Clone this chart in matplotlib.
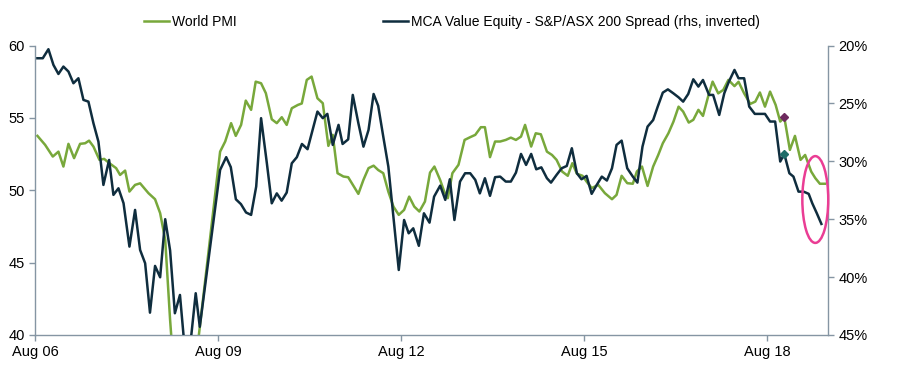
#!/usr/bin/env python3
"""World PMI vs MCA value equity spread (rhs, inverted)."""
import matplotlib.pyplot as plt
from matplotlib.patches import Ellipse

plt.rcParams["font.family"] = ["Liberation Sans", "DejaVu Sans"]

GREEN = "#78a83b"
NAVY = "#0f2d3e"
AXIS = "#8595a3"
PINK = "#ea3d94"

# x = months since Aug 2006
pmi_months = [
    0.46, 1.97, 3.48, 4.59, 5.57, 6.56, 7.67, 8.85, 9.84, 10.62, 11.48, 12.66, 13.58,
    14.62, 15.94, 16.72, 17.71, 18.56, 19.67, 20.66, 22.3, 23.6, 24.6, 25.6, 26.56,
    27.5, 29.5, 31.5, 36.4, 37.4, 38.56, 39.48, 40.53, 41.45, 42.5, 43.4, 44.46, 45.4,
    46.56, 47.55, 48.53, 49.5, 50.5, 51.7, 52.47, 53.45, 54.4, 55.55, 56.6, 57.7,
    58.56, 59.5, 60.66, 61.6, 63.6, 64.6, 65.6, 66.6, 67.5, 68.5, 69.5, 70.5, 71.55,
    72.6, 73.6, 74.6, 75.6, 76.7, 77.7, 78.56, 79.7, 80.5, 81.2, 82.1, 83.3, 84.5,
    85.6, 86.6, 87.7, 88.5, 89.5, 90.5, 91.5, 92.6, 93.6, 94.6, 95.6, 96.4, 97.6,
    98.5, 99.5, 100.7, 101.7, 102.6, 103.7, 104.8, 105.7, 106.6, 107.7, 108.5, 109.5,
    110.8, 112.1, 113.5, 114.4, 115.4, 116.5, 117.6, 118.4, 119.4, 120.5, 121.6,
    122.6, 123.5, 124.6, 125.6, 126.6, 127.5, 128.6, 129.5, 130.5, 131.4, 132.5,
    133.3, 134.4, 135.4, 136.4, 137.6, 138.4, 139.5, 140.7, 141.7, 142.6, 143.6,
    144.6, 145.7, 146.6, 147.4, 148.5, 149.5, 150.6, 151.5, 152.7, 153.5, 154.4, 155.4,
]
pmi_values = [
    53.76, 53.14, 52.33, 52.67, 51.64, 53.21, 52.22, 53.21, 53.25, 53.43, 53.02, 52.1, 52.17,
    51.87, 51.53, 51.06, 51.36, 49.91, 50.37, 50.48, 49.8, 49.38, 48.42, 46.57, 41.04,
    36.5, 34.0, 37.8, 52.67, 53.37, 54.64, 53.76, 54.52, 56.2, 55.56, 57.51, 57.4, 56.71,
    54.91, 54.64, 55.05, 54.52, 55.67, 55.9, 56.0, 57.63, 57.86, 56.36, 56.02, 53.07,
    53.83, 51.18, 50.95, 50.9, 49.75, 50.72, 51.53, 51.7, 51.4, 51.18, 49.9, 48.87, 48.3,
    48.64, 49.56, 48.87, 48.53, 49.22, 51.22, 51.64, 50.7, 49.9, 49.45, 51.18, 51.76, 53.48,
    53.67, 53.83, 54.36, 54.36, 52.29, 53.37, 53.37, 53.48, 53.64, 53.48, 53.71, 54.52, 53.02,
    53.94, 53.87, 52.67, 52.44, 52.1, 51.29, 51.0, 51.87, 51.14, 51.0, 50.6, 50.15,
    50.37, 49.8, 49.38, 49.68, 51.0, 50.49, 50.45, 51.3, 51.64, 50.3, 51.64,
    52.44, 53.25, 53.94, 54.75, 55.78, 55.44, 54.68, 54.87, 55.56, 55.14, 56.59,
    57.51, 56.7, 56.94, 57.63, 57.2, 57.5, 56.7, 55.97, 56.13, 56.76, 55.78,
    56.82, 55.9, 54.75, 55.05, 52.79, 53.76, 52.1, 52.44, 51.29, 50.84, 50.45, 50.45,
]

spread_months = [
    0.46, 1.51, 2.62, 3.61, 4.59, 5.57, 6.56, 7.54, 8.52, 9.51, 10.49, 11.48, 12.46,
    13.44, 14.56, 15.41, 16.4, 17.4, 18.56, 19.67, 20.66, 21.65, 22.6, 23.6, 24.6, 25.6,
    26.56, 27.5, 28.5, 29.5, 30.5, 31.6, 32.4, 36.4, 37.6, 38.5, 39.5, 40.5, 41.5, 42.5,
    43.5, 44.46, 45.6, 46.56, 47.55, 48.5, 49.5, 50.5, 51.5, 52.5, 53.6, 54.6, 55.55,
    56.6, 57.5, 58.56, 59.7, 60.5, 61.6, 62.5, 63.6, 64.6, 65.6, 66.6, 67.5, 68.5, 69.5,
    70.5, 71.55, 72.6, 73.5, 74.4, 75.5, 76.5, 77.6, 78.5, 79.7, 80.7, 81.6, 82.5, 83.6,
    84.6, 85.6, 86.6, 87.5, 88.5, 89.5, 90.5, 91.5, 92.6, 93.6, 94.6, 95.6, 96.6, 97.6,
    98.6, 99.6, 100.7, 101.5, 102.6, 103.6, 104.6, 105.6, 106.6, 107.5, 108.5, 109.5,
    110.5, 111.5, 112.5, 113.5, 114.4, 115.4, 116.5, 117.6, 118.5, 119.5, 120.5, 121.6,
    122.5, 123.5, 124.5, 125.6, 126.6, 127.5, 128.5, 129.5, 130.5, 131.4, 132.6, 133.4,
    134.6, 135.6, 136.5, 137.6, 138.4, 139.5, 140.5, 141.6, 142.6, 143.6, 144.6, 145.6,
    146.6, 147.4, 148.4, 149.2, 150.2, 151.2, 152.2, 152.9, 153.8, 154.7,
]
spread_values = [
    21.09, 21.09, 20.31, 21.67, 22.45, 21.81, 22.24, 23.25, 22.82, 24.69, 24.84, 26.71, 28.3,
    32.04, 29.88, 32.9, 32.33, 33.62, 37.37, 34.2, 37.66, 38.81, 43.08, 39.04, 40.02, 35.0,
    37.7, 43.13, 41.55, 46.5, 46.0, 41.4, 44.3, 30.74, 29.64, 30.5, 33.28, 33.7, 34.42, 34.63,
    32.18, 26.27, 30.17, 33.63, 32.77, 33.4, 32.7, 30.17, 29.64, 28.5, 28.95, 27.29, 25.7,
    26.27, 25.9, 28.58, 26.85, 28.5, 28.1, 24.26, 26.7, 28.73, 27.29, 24.18, 25.2, 27.86, 30.46,
    34.78, 39.39, 35.07, 36.22, 35.79, 37.3, 34.49, 35.3, 33.05, 32.1, 33.33, 31.55, 35.07, 31.75,
    31.03, 31.03, 31.6, 32.77, 31.46, 32.98, 31.37, 31.32, 31.75, 31.75, 30.98, 29.36, 30.31, 29.36,
    30.69, 30.52, 31.46, 31.84, 31.17, 30.6, 30.4, 28.87, 31.03, 31.55, 31.26, 32.81,
    32.04, 31.32, 31.66, 30.6, 28.58, 28.21, 30.6, 31.32, 31.84, 28.73, 27.0, 26.43,
    25.27, 24.06, 23.78, 24.13, 24.47, 24.84, 24.18, 22.91, 23.54, 22.97, 24.26, 24.26,
    25.99, 24.11, 23.11, 22.1, 22.82, 22.82, 25.27, 25.9, 25.9, 25.9, 26.56, 26.56,
    30.02, 29.36, 31.03, 31.32, 32.62, 32.62, 32.81, 33.62, 34.49, 35.41,
]

tick_months = [0, 36, 72, 108, 144]
tick_labels = ["Aug 06", "Aug 09", "Aug 12", "Aug 15", "Aug 18"]
left_ticks = [40, 45, 50, 55, 60]
right_ticks = [20, 25, 30, 35, 40, 45]

marker_month = 147.4
marker_pmi = 55.05
marker_spread = 29.36


def style_axis(ax):
    for side in ("left", "right", "bottom"):
        ax.spines[side].set_color(AXIS)
        ax.spines[side].set_linewidth(1.0)
    ax.spines["top"].set_visible(False)
    ax.tick_params(colors=AXIS, labelcolor="black", labelsize=10.5, length=4, width=1.0)


def main() -> None:
    fig = plt.figure(figsize=(9, 3.68), dpi=100)
    ax = fig.add_axes([0.039, 0.09, 0.881, 0.786])
    ax2 = ax.twinx()

    ax.plot(pmi_months, pmi_values, color=GREEN, lw=1.8, label="World PMI")
    ax.plot(marker_month, marker_pmi, marker="D", ms=4.5, color="#6e2a5f", zorder=5)
    ax2.plot(spread_months, spread_values, color=NAVY, lw=1.8,
             label="MCA Value Equity - S&P/ASX 200 Spread (rhs, inverted)")
    ax2.plot(marker_month, marker_spread, marker="D", ms=4.5, color="#1d6d68", zorder=5)

    ax.set_xlim(0, 156)
    ax.set_ylim(40, 60)
    ax.set_yticks(left_ticks)
    ax.set_xticks(tick_months)
    ax.set_xticklabels(tick_labels)
    ax2.set_ylim(45, 20)
    ax2.set_yticks(right_ticks)
    ax2.set_yticklabels([f"{t}%" for t in right_ticks])
    style_axis(ax)
    style_axis(ax2)
    ax.spines["right"].set_visible(False)
    ax2.spines["left"].set_visible(False)
    ax2.spines["bottom"].set_visible(False)

    ax2.add_patch(Ellipse((153.5, 33.3), width=5.1, height=7.5, fill=False,
                          edgecolor=PINK, lw=1.8, clip_on=False, zorder=6))

    handles = ax.get_lines()[:1] + ax2.get_lines()[:1]
    fig.legend(handles, [h.get_label() for h in handles], loc="center",
               bbox_to_anchor=(452 / 900, 1 - 22 / 368), ncol=2, frameon=False,
               fontsize=10, handlelength=1.8, handletextpad=0.2, columnspacing=10.5)

    fig.savefig("out.png", dpi=100, facecolor="white")


if __name__ == "__main__":
    main()
